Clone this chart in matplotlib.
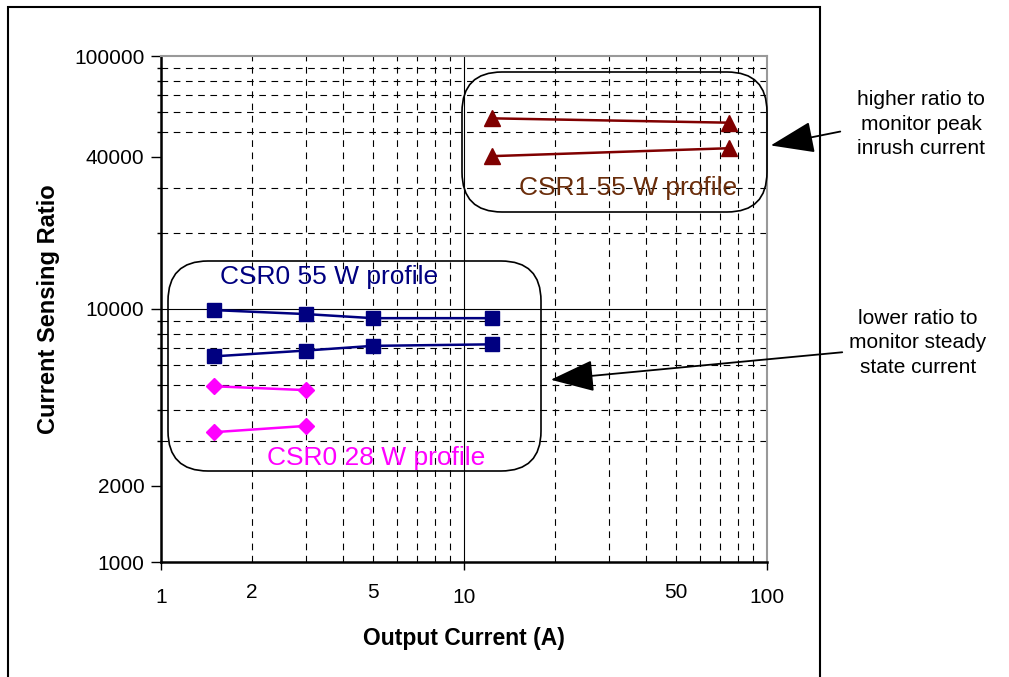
import numpy as np
import matplotlib
matplotlib.use('Agg')
import matplotlib.pyplot as plt
from matplotlib.patches import FancyBboxPatch, Rectangle, FancyArrowPatch
from matplotlib.transforms import IdentityTransform
from matplotlib.ticker import FixedLocator, NullFormatter, FixedFormatter

plt.rcParams['font.family'] = ['Liberation Sans', 'DejaVu Sans']

# data
csr1_x = [12.4, 75]
csr1_hi = [56700, 54500]
csr1_lo = [40200, 43200]

csr0_55_x = [1.5, 3, 5, 12.4]
csr0_55_hi = [9900, 9550, 9200, 9200]
csr0_55_lo = [6500, 6850, 7150, 7250]

csr0_28_x = [1.5, 3]
csr0_28_hi = [4950, 4780]
csr0_28_lo = [3260, 3450]

y_ticks = [1000, 2000, 10000, 40000, 100000]
x_major = [1, 10, 100]
x_minor_lab = [2, 5, 50]

W, H = 1009, 677
fig = plt.figure(figsize=(W / 100, H / 100), dpi=100)
ax = fig.add_axes([161 / W, 1 - 562 / H, (767 - 161) / W, (562 - 56) / H])
ax.set_xscale('log')
ax.set_yscale('log')
ax.set_xlim(1, 100)
ax.set_ylim(1000, 100000)

navy = '#000080'
mag = '#FF00FF'
red = '#800000'
for ys in (csr0_55_hi, csr0_55_lo):
    ax.plot(csr0_55_x, ys, color=navy, lw=1.8, marker='s', ms=10.5, zorder=5)
for ys in (csr0_28_hi, csr0_28_lo):
    ax.plot(csr0_28_x, ys, color=mag, lw=1.8, marker='D', ms=8.5, zorder=5)
for ys in (csr1_hi, csr1_lo):
    ax.plot(csr1_x, ys, color=red, lw=1.8, marker='^', ms=11, zorder=5)

# grid: decades solid, everything else dashed
dash = (0, (6, 5))
ax.xaxis.grid(True, which='major', color='black', lw=0.8, ls='-')
ax.xaxis.grid(True, which='minor', color='black', lw=0.8, ls=dash)
ax.yaxis.grid(True, which='minor', color='black', lw=0.8, ls=dash)
ax.axhline(10000, color='black', lw=0.8, zorder=0.5)
ax.set_axisbelow(True)

ax.yaxis.set_major_locator(FixedLocator(y_ticks))
ax.yaxis.set_major_formatter(FixedFormatter([str(v) for v in y_ticks]))
ax.yaxis.set_minor_locator(FixedLocator([k * 10 ** d for d in (3, 4) for k in range(2, 10)]))
ax.yaxis.set_minor_formatter(NullFormatter())
ax.tick_params(axis='y', which='major', length=7, width=1, labelsize=15, pad=5)
ax.tick_params(axis='y', which='minor', length=3, width=1)

ax.xaxis.set_major_locator(FixedLocator(x_major))
ax.xaxis.set_major_formatter(FixedFormatter([str(v) for v in x_major]))
ax.xaxis.set_minor_locator(FixedLocator([k * 10 ** d for d in (0, 1) for k in range(2, 10)]))
ax.xaxis.set_minor_formatter(FixedFormatter(
    [str(k * 10 ** d) if k * 10 ** d in x_minor_lab else '' for d in (0, 1) for k in range(2, 10)]))
ax.tick_params(axis='x', which='major', length=6, width=1, labelsize=15, pad=13)
ax.tick_params(axis='x', which='minor', length=0, labelsize=15, pad=15)

for s in ('top', 'right'):
    ax.spines[s].set_color('#999999')
    ax.spines[s].set_linewidth(1.5)
for s in ('left', 'bottom'):
    ax.spines[s].set_linewidth(1.8)

ax.set_xlabel('Output Current (A)', fontsize=16.5, fontweight='bold', labelpad=14)
ax.set_ylabel('Current Sensing Ratio', fontsize=17, fontweight='bold', labelpad=10)

# text labels for the groups
ax.text(0.77, 0.74, 'CSR1 55 W profile', transform=ax.transAxes, color='#6B2E0C',
        fontsize=19, ha='center', va='center', zorder=1)
ax.text(0.278, 0.564, 'CSR0 55 W profile', transform=ax.transAxes, color=navy,
        fontsize=19, ha='center', va='center')
ax.text(0.355, 0.205, 'CSR0 28 W profile', transform=ax.transAxes, color=mag,
        fontsize=19, ha='center', va='center')

# rounded boxes in pixel coordinates (top-left origin converted)
def rbox(x0, y0, x1, y1):
    p = FancyBboxPatch((x0 + 40, H - y1 + 40), (x1 - x0) - 80, (y1 - y0) - 80,
                       boxstyle='round,pad=40', transform=IdentityTransform(),
                       fill=False, ec='black', lw=1.2, zorder=6)
    fig.patches.append(p)

rbox(462, 72, 767, 212)
rbox(168, 261, 541, 471)

# outer frame
fig.patches.append(Rectangle((8 / W, -0.1), (820 - 8) / W, 1.1 - 7 / H,
                             transform=fig.transFigure, fill=False, ec='black', lw=1.5))

# side notes with arrows
fig.text(921 / W, 1 - 124 / H, 'higher ratio to\nmonitor peak\ninrush current',
         ha='center', va='center', fontsize=15, linespacing=1.35)
fig.text(918 / W, 1 - 343 / H, 'lower ratio to\nmonitor steady\nstate current',
         ha='center', va='center', fontsize=15, linespacing=1.35)
fig.add_artist(FancyArrowPatch(
    (843, H - 131), (768, H - 146), transform=IdentityTransform(),
    arrowstyle='-|>,head_length=1.1,head_width=0.4', mutation_scale=25,
    color='black', lw=1.3))
fig.add_artist(FancyArrowPatch(
    (845, H - 352), (548, H - 380), transform=IdentityTransform(),
    arrowstyle='-|>,head_length=1.1,head_width=0.4', mutation_scale=25,
    color='black', lw=1.3))

fig.savefig('out.png', dpi=100)
